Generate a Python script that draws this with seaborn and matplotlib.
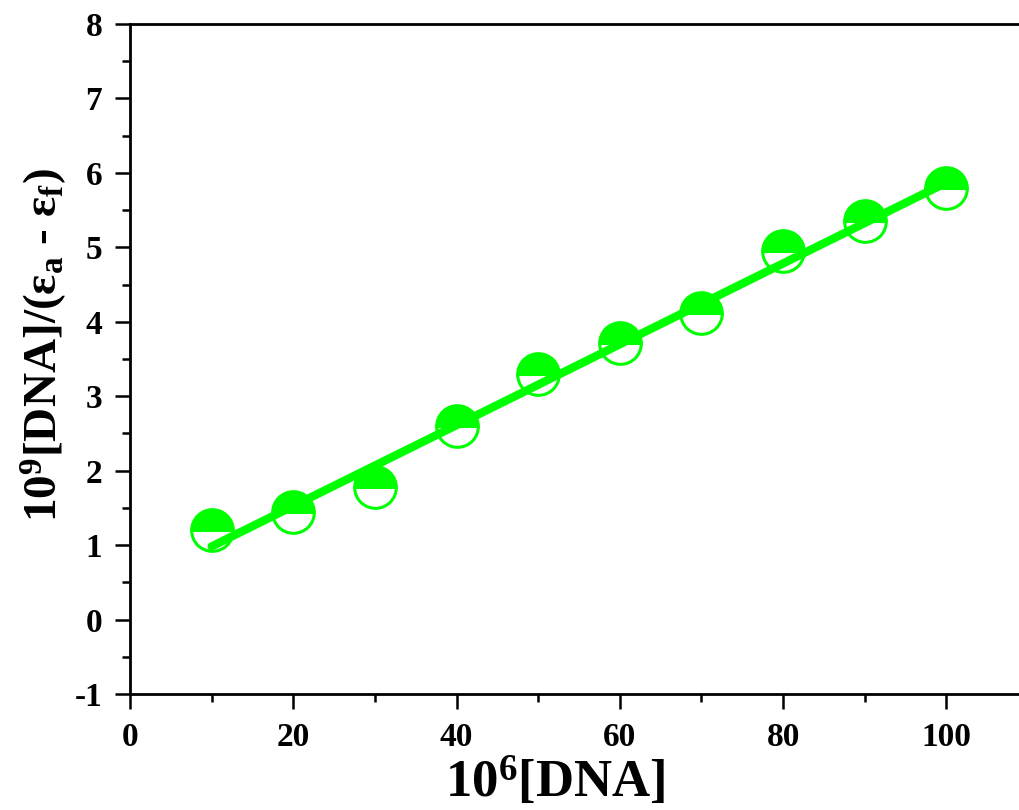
import numpy as np
import pandas as pd
import matplotlib
matplotlib.use('Agg')
import matplotlib.pyplot as plt
from matplotlib.ticker import MultipleLocator
import seaborn as sns

# data
dna = [10, 20, 30, 40, 50, 60, 70, 80, 90, 100]
ratio = [1.20, 1.44, 1.78, 2.60, 3.30, 3.72, 4.12, 4.95, 5.35, 5.80]

df = pd.DataFrame({'dna': dna, 'ratio': ratio})

sns.set_style('ticks')
plt.rcParams['font.family'] = ['Liberation Serif', 'DejaVu Serif']
plt.rcParams['font.weight'] = 'bold'
plt.rcParams['mathtext.fontset'] = 'custom'
plt.rcParams['mathtext.rm'] = 'Liberation Serif:bold'
plt.rcParams['mathtext.it'] = 'Liberation Serif:bold'
plt.rcParams['mathtext.bf'] = 'Liberation Serif:bold'
plt.rcParams['axes.unicode_minus'] = False
plt.rcParams['text.color'] = 'black'
plt.rcParams['axes.labelcolor'] = 'black'
plt.rcParams['xtick.color'] = 'black'
plt.rcParams['ytick.color'] = 'black'

green = '#00FF00'

fig = plt.figure(figsize=(10.2, 8.1), dpi=100)
# axes runs past the right edge like the original export
ax = fig.add_axes([130 / 1020, 116 / 810, 898 / 1020, 670 / 810])

sns.lineplot(data=df, x='dna', y='ratio', ax=ax, linestyle='none',
             marker='o', markersize=30, fillstyle='top', color=green,
             markerfacecolor=green, markerfacecoloralt='white',
             markeredgecolor=green, markeredgewidth=2.2, zorder=2)
sns.regplot(data=df, x='dna', y='ratio', ax=ax, scatter=False, ci=None,
            truncate=True, color=green, line_kws={'linewidth': 6, 'zorder': 3})

ax.set_xlim(0, 110)
ax.set_ylim(-1, 8)
ax.xaxis.set_major_locator(MultipleLocator(20))
ax.xaxis.set_minor_locator(MultipleLocator(10))
ax.yaxis.set_major_locator(MultipleLocator(1))
ax.yaxis.set_minor_locator(MultipleLocator(0.5))
ax.set_xticks([0, 20, 40, 60, 80, 100])

ax.tick_params(which='major', direction='out', length=11, width=1.8,
               labelsize=24, pad=9, top=False, right=False,
               colors='black', labelcolor='black')
ax.tick_params(which='minor', direction='out', length=6, width=1.8,
               top=False, right=False, colors='black')
for lab in ax.get_xticklabels() + ax.get_yticklabels():
    lab.set_fontweight('bold')

for side in ['left', 'bottom', 'top', 'right']:
    ax.spines[side].set_visible(True)
    ax.spines[side].set_linewidth(2)
    ax.spines[side].set_color('black')

ax.set_xlabel(r'10$^{6}$[DNA]', fontsize=38, fontweight='bold', color='black')
ax.set_ylabel(r'10$^{9}$[DNA]/(ε$_{a}$ - ε$_{f}$)', fontsize=34,
              fontweight='bold', color='black')
ax.xaxis.set_label_coords(0.474, -0.091)
ax.yaxis.set_label_coords(-0.068, 0.52)

fig.savefig('out.png', dpi=100)
